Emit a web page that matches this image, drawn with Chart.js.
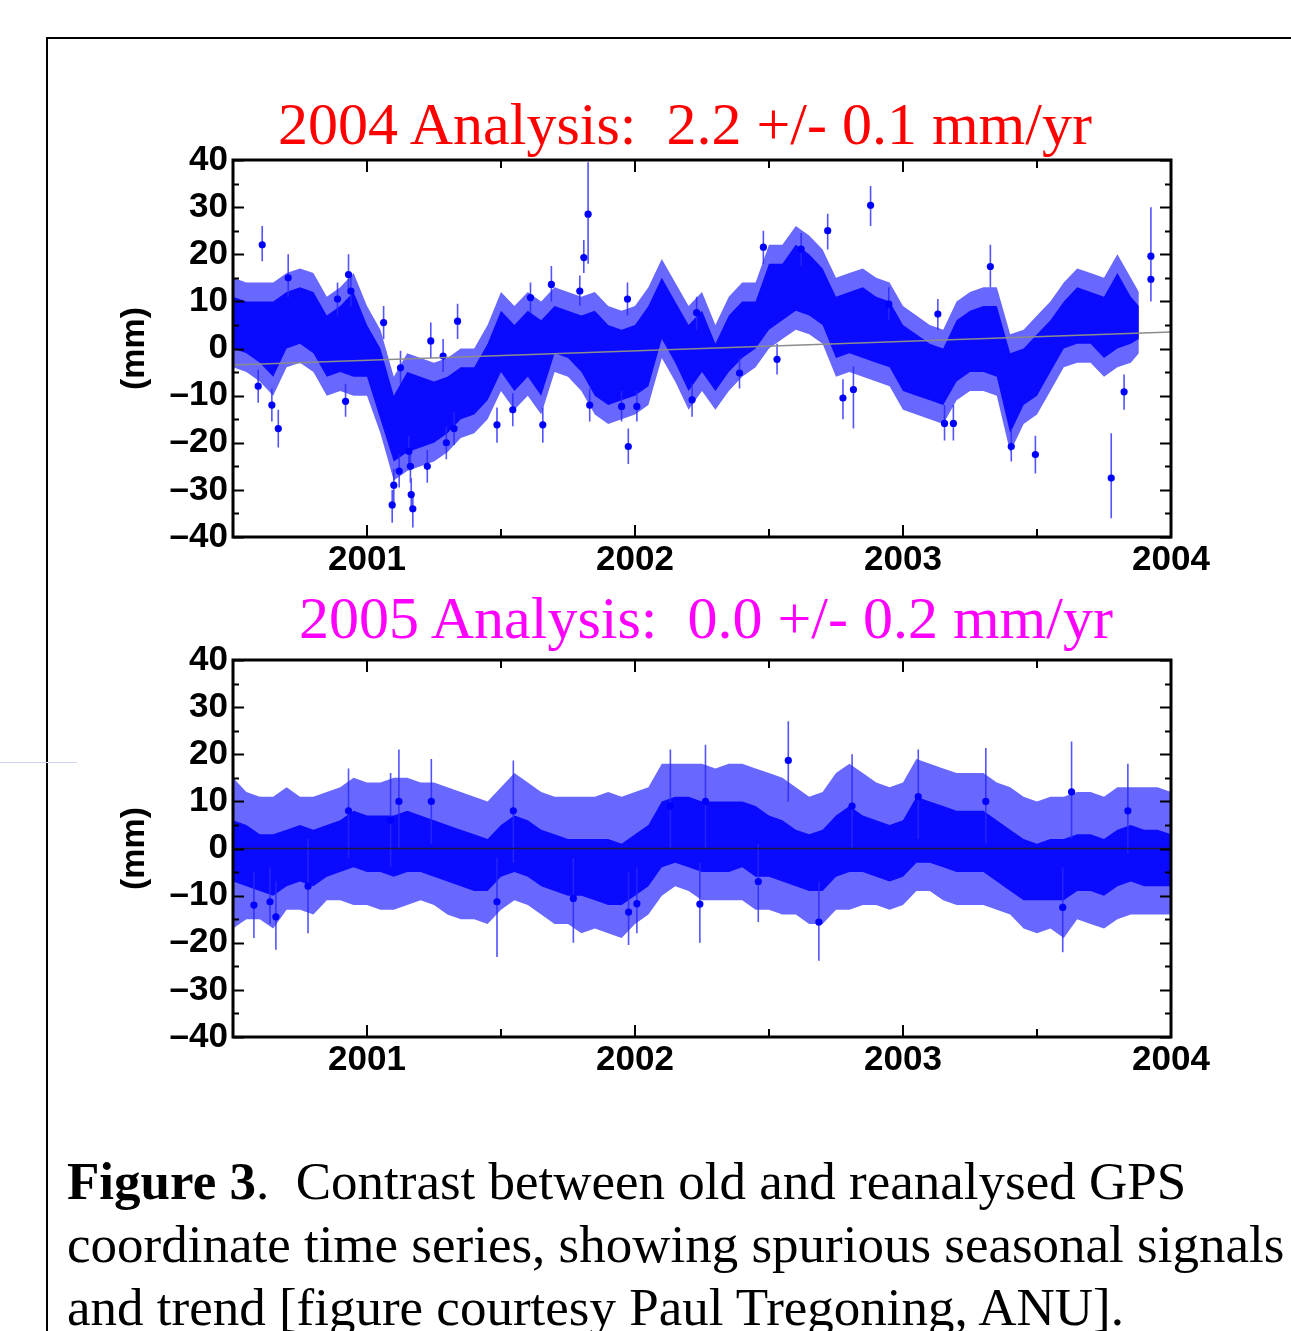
<!DOCTYPE html>
<html lang="en">
<head>
  <meta charset="UTF-8" />
  <title>Figure 3 - GPS coordinate time series</title>
  <script src="https://cdn.jsdelivr.net/npm/chart.js"></script>
  <style>
    body { margin: 0; background: #fff; }
    #page { position: relative; width: 1291px; height: 1331px; overflow: hidden; background: #fff; }
    .frame { position: absolute; left: 46px; top: 37px; width: 1400px; height: 1400px; border-left: 2px solid #000; border-top: 2px solid #000; }
    .stray { position: absolute; left: 0; top: 762px; width: 77px; height: 1px; background: #cdd4f2; }
    canvas { position: absolute; left: 0; }
    .ttl { position: absolute; font-family: "Liberation Serif", "Times New Roman", serif; font-size: 60px; line-height: 60px; white-space: pre; transform: translateX(-50%); }
    .caption { position: absolute; left: 67px; top: 1150px; font-family: "Liberation Serif", "Times New Roman", serif; font-size: 53px; line-height: 63px; white-space: nowrap; color: #000; }
  </style>
</head>
<body>
<div id="page">
  <div class="frame"></div>
  <div class="stray"></div>
  <canvas id="old" width="1291" height="600" style="top:0"></canvas>
  <canvas id="new" width="1291" height="600" style="top:500px"></canvas>
  <div class="ttl" style="left:685px; top:94px; color:#ff0000">2004 Analysis:  2.2 +/- 0.1 mm/yr</div>
  <div class="ttl" style="left:706px; top:588px; color:#ff00ff">2005 Analysis:  0.0 +/- 0.2 mm/yr</div>
  <div class="caption"><b>Figure 3</b>.&nbsp; Contrast between old and reanalysed GPS<br>coordinate time series, showing spurious seasonal signals<br>and trend [figure courtesy Paul Tregoning, ANU].</div>
</div>

<script>
  // axes
  const yearTicks = [2001, 2002, 2003, 2004];
  const halfYears = [2001.5, 2002.5, 2003.5];
  const mmTicks = [-40, -30, -20, -10, 0, 10, 20, 30, 40];
  const mmMinor = [-35, -25, -15, -5, 5, 15, 25, 35];

  // ---- 2004 analysis (top panel) ----
  // cloud of daily solutions: dot range and error-bar envelope per ~18 days
  const t1 = [2000.50, 2000.55, 2000.60, 2000.65, 2000.70, 2000.75, 2000.80, 2000.85, 2000.90, 2000.95,
              2001.00, 2001.05, 2001.10, 2001.15, 2001.20, 2001.25, 2001.30, 2001.35, 2001.40, 2001.45,
              2001.50, 2001.55, 2001.60, 2001.65, 2001.70, 2001.75, 2001.80, 2001.85, 2001.90, 2001.95,
              2002.00, 2002.05, 2002.10, 2002.15, 2002.20, 2002.25, 2002.30, 2002.35, 2002.40, 2002.45,
              2002.50, 2002.55, 2002.60, 2002.65, 2002.70, 2002.75, 2002.80, 2002.85, 2002.90, 2002.95,
              2003.00, 2003.05, 2003.10, 2003.15, 2003.20, 2003.25, 2003.30, 2003.35, 2003.40, 2003.45,
              2003.50, 2003.55, 2003.60, 2003.65, 2003.70, 2003.75, 2003.80, 2003.85, 2003.88];
  const dotHi1 = [11, 10, 10, 10, 12, 13, 12, 7, 9, 12,
                  5, 0, -10, -5, -6, -7, -6, -4, -4, 1,
                  8, 5, 8, 6, 9, 8, 7, 8, 5, 4,
                  5, 9, 15, 10, 5, 8, 1, 7, 10, 10,
                  18, 18, 22, 20, 17, 11, 12, 13, 11, 10,
                  5, 3, 1, 0, 6, 8, 9, 9, -1, 0,
                  3, 6, 10, 13, 12, 11, 16, 11, 9];
  const dotLo1 = [0, -1, -3, -6, 0, 1, -1, -6, -5, -6,
                  -6, -15, -24, -22, -21, -20, -18, -15, -14, -11,
                  -5, -9, -6, -10, -1, -2, -5, -10, -12, -11,
                  -10, -8, 2, -3, -9, -5, -9, -5, -2, 0,
                  4, 6, 8, 7, 5, -2, -1, -2, -3, -4,
                  -9, -10, -11, -12, -7, -5, -5, -6, -18, -12,
                  -10, -5, 0, 1, 1, -2, 0, 1, 2];
  const errHi1 = [15, 14, 14, 14, 16, 17, 16, 11, 13, 16,
                  9, 4, -6, -1, -2, -3, -2, 0, 0, 5,
                  12, 9, 12, 10, 13, 12, 11, 12, 9, 8,
                  9, 13, 19, 14, 9, 12, 5, 11, 14, 14,
                  22, 22, 26, 24, 21, 15, 16, 17, 15, 14,
                  9, 7, 5, 4, 10, 12, 13, 13, 3, 4,
                  7, 10, 14, 17, 16, 15, 20, 15, 12];
  const errLo1 = [-4, -5, -7, -10, -4, -3, -5, -10, -9, -10,
                  -10, -18, -28, -26, -25, -24, -22, -19, -18, -15,
                  -9, -13, -10, -14, -5, -6, -9, -14, -16, -15,
                  -14, -12, -2, -7, -13, -9, -13, -9, -6, -4,
                  0, 2, 4, 3, 1, -6, -5, -6, -7, -8,
                  -13, -14, -15, -16, -11, -9, -9, -10, -22, -16,
                  -14, -9, -4, -3, -3, -6, -4, -3, -1];
  // isolated solutions with their error bars
  const out1T = [2000.594, 2000.609, 2000.645, 2000.669, 2000.706, 2000.890, 2000.920, 2000.931, 2000.940, 2001.062,
                 2001.094, 2001.100, 2001.120, 2001.125, 2001.156, 2001.162, 2001.165, 2001.171, 2001.225, 2001.238,
                 2001.284, 2001.296, 2001.325, 2001.338, 2001.485, 2001.544, 2001.610, 2001.656, 2001.688, 2001.794,
                 2001.809, 2001.825, 2001.831, 2001.950, 2001.972, 2001.975, 2002.007, 2002.213, 2002.230, 2002.390,
                 2002.479, 2002.530, 2002.620, 2002.719, 2002.776, 2002.815, 2002.879, 2002.947, 2003.130, 2003.155,
                 2003.188, 2003.326, 2003.404, 2003.494, 2003.777, 2003.825, 2003.925, 2003.925];
  const out1V = [-8, 22, -12, -17, 15, 10.5, -11.2, 15.7, 12.2, 5.5,
                 -33.2, -29, -26, -4.1, -21.8, -25, -31, -34, -25, 1.6,
                 -1.6, -20, -17, 5.8, -16.2, -13, 10.8, -16.2, 13.6, 12.2,
                 19.3, 28.5, -12, -12.3, 10.5, -20.8, -12.3, -10.9, 7.6, -5.2,
                 21.5, -2.3, 21.1, 25, -10.5, -8.7, 30.4, 9.4, 7.3, -15.9,
                 -15.9, 17.4, -20.8, -22.5, -27.5, -9.2, 19.6, 14.7];
  const out1Lo = [-11.5, 18.5, -15.5, -21, 11, 7, -14.5, 11.5, 9, 2,
                  -37, -32.5, -29.5, -7.5, -25, -28.5, -34.5, -38, -28.5, -2,
                  -5, -23.5, -20.5, 2, -20, -16.5, 7.5, -20, 10, 9,
                  16, 18, -15.5, -15.5, 7, -24.5, -15.5, -14.5, 4, -8.5,
                  18, -5.5, 17.5, 21, -15, -17, 26, 6, 4, -19.5,
                  -19.5, 13, -24, -26.5, -36, -13, 10, 10];
  const out1Hi = [-4.5, 26, -8.5, -13, 20, 14, -7.5, 20, 15.5, 9,
                  -30, -25.5, -22.5, -0.5, -18.5, -21.5, -27.5, -31, -21.5, 5.5,
                  2, -16.5, -13.5, 9.5, -12.5, -9.5, 14, -12.5, 17.5, 15.5,
                  23, 39.5, -8.5, -9, 14, -17, -9, -7.5, 11, -2,
                  25, 1, 24.5, 28.6, -6.5, -3.8, 34.5, 13, 10.5, -12,
                  -12, 22, -17, -18.5, -18, -5.5, 30, 19.6];
  // fitted rate line
  const trend1T = [2000.5, 2004.0];
  const trend1V = [-3.5, 3.5];

  // ---- 2005 analysis (bottom panel) ----
  const t2 = [2000.50, 2000.55, 2000.60, 2000.65, 2000.70, 2000.75, 2000.80, 2000.85, 2000.90, 2000.95,
              2001.00, 2001.05, 2001.10, 2001.15, 2001.20, 2001.25, 2001.30, 2001.35, 2001.40, 2001.45,
              2001.50, 2001.55, 2001.60, 2001.65, 2001.70, 2001.75, 2001.80, 2001.85, 2001.90, 2001.95,
              2002.00, 2002.05, 2002.10, 2002.15, 2002.20, 2002.25, 2002.30, 2002.35, 2002.40, 2002.45,
              2002.50, 2002.55, 2002.60, 2002.65, 2002.70, 2002.75, 2002.80, 2002.85, 2002.90, 2002.95,
              2003.00, 2003.05, 2003.10, 2003.15, 2003.20, 2003.25, 2003.30, 2003.35, 2003.40, 2003.45,
              2003.50, 2003.55, 2003.60, 2003.65, 2003.70, 2003.75, 2003.80, 2003.85, 2003.90, 2003.95, 2004.00];
  const dotHi2 = [6, 5, 3, 3, 4, 5, 4, 5, 6, 8,
                  7, 7, 7, 8, 7, 6, 5, 4, 3, 2,
                  5, 7, 6, 4, 3, 2, 2, 2, 2, 1,
                  3, 5, 10, 11, 11, 10, 10, 10, 10, 9,
                  7, 6, 4, 3, 4, 7, 9, 7, 6, 5,
                  6, 11, 10, 9, 8, 8, 8, 6, 4, 2,
                  1, 2, 2, 3, 3, 2, 4, 5, 4, 4, 3];
  const dotLo2 = [-7, -8, -9, -10, -8, -7, -8, -6, -5, -4,
                  -5, -5, -6, -5, -5, -6, -7, -8, -9, -9,
                  -6, -5, -6, -8, -9, -10, -10, -11, -12, -12,
                  -10, -8, -4, -3, -4, -5, -5, -5, -4, -6,
                  -6, -7, -8, -9, -9, -6, -5, -5, -6, -7,
                  -6, -3, -3, -4, -5, -5, -5, -7, -9, -11,
                  -11, -11, -11, -9, -9, -10, -8, -7, -8, -8, -8];
  const errHi2 = [15, 12, 11, 11, 13, 11, 11, 12, 13, 15,
                  14, 14, 15, 15, 14, 14, 13, 12, 11, 10,
                  13, 16, 14, 12, 11, 11, 11, 11, 12, 11,
                  12, 13, 18, 18, 18, 18, 17, 18, 18, 17,
                  16, 15, 13, 11, 12, 16, 18, 16, 14, 13,
                  14, 19, 18, 17, 16, 16, 16, 14, 13, 11,
                  10, 11, 11, 12, 12, 11, 13, 13, 13, 13, 12];
  const errLo2 = [-17, -15, -15, -17, -13, -13, -14, -11, -11, -12,
                  -12, -13, -13, -12, -11, -12, -14, -15, -15, -16,
                  -13, -11, -12, -14, -16, -16, -18, -17, -18, -19,
                  -16, -14, -10, -8, -9, -11, -11, -11, -11, -13,
                  -13, -14, -14, -16, -16, -13, -13, -12, -12, -13,
                  -12, -9, -9, -11, -12, -12, -12, -13, -14, -17,
                  -18, -17, -19, -15, -16, -17, -15, -14, -14, -14, -14];
  const out2T = [2000.578, 2000.638, 2000.660, 2000.780, 2000.931, 2001.088, 2001.119, 2001.240, 2001.485, 2001.546,
                 2001.770, 2001.976, 2002.007, 2002.132, 2002.242, 2002.263, 2002.460, 2002.572, 2002.686, 2002.810,
                 2003.057, 2003.309, 2003.596, 2003.629, 2003.839];
  const out2V = [-12, -11.3, -14.5, -8, 8, 6, 10, 10, -11.3, 8,
                 -10.6, -13.5, -11.7, 9, -11.8, 10, -7, 18.7, -15.6, 9,
                 11, 10, -12.5, 12, 8];
  const out2Lo = [-19, -16, -21.5, -18, -2, -4, 0, 1, -23, -3,
                  -20, -20.5, -18, 0, -20, 0, -15.6, 10, -23.8, 0,
                  2, 1, -22, 2, -1];
  const out2Hi = [-5, -4, -7, 2, 17, 16, 21, 19, -2, 18.7,
                  -2, -5, -4, 21, -3, 22, 1, 27, -7, 20,
                  21, 21.3, -4, 22.7, 18];
  const zeroT = [2000.5, 2004.0];
  const zeroV = [0, 0];

  Chart.defaults.font.family = '"Liberation Sans", Arial, sans-serif';
  Chart.defaults.color = '#000';

  function pts(xs, ys) {
    return xs.map((x, i) => ({ x: x, y: ys[i] }));
  }

  // vertical error bar segments, separated by gaps
  function errSegs(xs, lo, hi) {
    const out = [];
    xs.forEach((x, i) => {
      out.push({ x: x, y: lo[i] }, { x: x, y: hi[i] }, { x: x, y: null });
    });
    return out;
  }

  // plot frame with inward ticks on all four sides
  const frameTicks = {
    id: 'frameTicks',
    afterDatasetsDraw(chart) {
      const { ctx, chartArea: a, scales: { x, y } } = chart;
      ctx.save();
      ctx.strokeStyle = '#000';
      ctx.lineWidth = 2;
      ctx.beginPath();
      const yTick = (v, len) => {
        const py = Math.round(y.getPixelForValue(v)) + 0.5;
        ctx.moveTo(a.left, py); ctx.lineTo(a.left + len, py);
        ctx.moveTo(a.right, py); ctx.lineTo(a.right - len, py);
      };
      const xTick = (v, len) => {
        const px = Math.round(x.getPixelForValue(v));
        ctx.moveTo(px, a.bottom); ctx.lineTo(px, a.bottom - len);
        ctx.moveTo(px, a.top); ctx.lineTo(px, a.top + len);
      };
      mmTicks.forEach(v => yTick(v, 11));
      mmMinor.forEach(v => yTick(v, 6));
      yearTicks.forEach(v => xTick(v, 12));
      halfYears.forEach(v => xTick(v, 8));
      ctx.stroke();
      ctx.lineWidth = 3;
      ctx.strokeRect(a.left, a.top, a.right - a.left, a.bottom - a.top);
      ctx.restore();
    }
  };

  function options() {
    return {
      responsive: false,
      animation: false,
      events: [],
      layout: { padding: { top: 160, right: 120, left: 0, bottom: 0 } },
      plugins: { legend: { display: false }, tooltip: { enabled: false } },
      elements: { point: { radius: 0 }, line: { tension: 0 } },
      scales: {
        x: {
          type: 'linear', min: 2000.5, max: 2004,
          grid: { display: false, drawTicks: false },
          border: { display: false },
          afterBuildTicks: s => { s.ticks = yearTicks.map(v => ({ value: v })); },
          afterFit: s => { s.height = 63; },
          ticks: { padding: 2, color: '#000', autoSkip: false, maxRotation: 0,
                   font: { size: 35, weight: 'bold', lineHeight: 1.2 }, callback: v => String(v) }
        },
        y: {
          type: 'linear', min: -40, max: 40,
          grid: { display: false, drawTicks: false },
          border: { display: false },
          afterBuildTicks: s => { s.ticks = mmTicks.map(v => ({ value: v })); },
          afterFit: s => { s.width = 233; },
          ticks: { padding: 5, color: '#000', autoSkip: false,
                   font: { size: 35, weight: 'bold', lineHeight: 1.2 },
                   callback: v => v < 0 ? '\u2013' + (-v) : String(v) },
          title: { display: true, text: '(mm)', color: '#000',
                   font: { size: 34, weight: 'bold', lineHeight: 1.2 },
                   padding: { top: 114, bottom: 0 } }
        }
      }
    };
  }

  function cloudSets(t, eHi, eLo, dHi, dLo, oT, oV, oLo, oHi, lineT, lineV, lineColor) {
    return [
      { data: pts(t, eHi), borderWidth: 0, fill: false, order: 5 },
      { data: pts(t, eLo), borderWidth: 0, fill: '-1', backgroundColor: 'rgba(40,40,255,0.7)', order: 5 },
      { data: pts(t, dHi), borderWidth: 0, fill: false, order: 4 },
      { data: pts(t, dLo), borderWidth: 0, fill: '-1', backgroundColor: '#0a0aff', order: 4 },
      { data: errSegs(oT, oLo, oHi), borderColor: 'rgba(40,40,255,0.8)', borderWidth: 1.6, fill: false, order: 3 },
      { data: pts(oT, oV), showLine: false, pointRadius: 3.6, pointBackgroundColor: '#0000ff',
        pointBorderWidth: 0, order: 2 },
      { data: pts(lineT, lineV), borderColor: lineColor, borderWidth: 1.5, fill: false, order: 1 }
    ];
  }

  new Chart(document.getElementById('old'), {
    type: 'line',
    data: { datasets: cloudSets(t1, errHi1, errLo1, dotHi1, dotLo1, out1T, out1V, out1Lo, out1Hi,
                                trend1T, trend1V, '#8c8c8c') },
    options: options(),
    plugins: [frameTicks]
  });

  new Chart(document.getElementById('new'), {
    type: 'line',
    data: { datasets: cloudSets(t2, errHi2, errLo2, dotHi2, dotLo2, out2T, out2V, out2Lo, out2Hi,
                                zeroT, zeroV, '#1a1a40') },
    options: options(),
    plugins: [frameTicks]
  });
</script>
</body>
</html>
